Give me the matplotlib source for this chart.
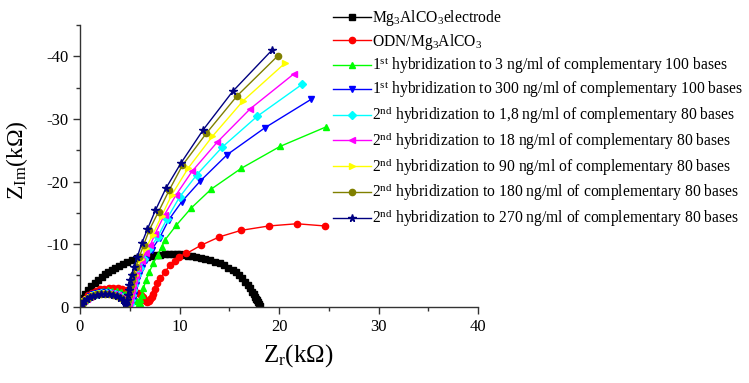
import matplotlib
matplotlib.use("Agg")
import matplotlib.pyplot as plt
from matplotlib.ticker import MultipleLocator

plt.rcParams['font.family'] = ['Liberation Serif', 'DejaVu Serif']
plt.rcParams['mathtext.fontset'] = 'custom'
plt.rcParams['mathtext.rm'] = 'Liberation Serif'
plt.rcParams['mathtext.it'] = 'Liberation Serif:italic'
plt.rcParams['axes.unicode_minus'] = False

# Mg3AlCO3 electrode
x_bare = [0.05, 0.17, 0.35, 0.55, 0.84, 1.15, 1.5, 1.85, 2.2, 2.55, 2.85, 3.2, 3.55, 3.96,
          4.35, 4.76, 5.2, 5.7, 6.2, 6.7, 7.2, 7.6, 8.06, 8.5, 8.9, 9.3, 9.7, 10.1, 10.5,
          10.9, 11.3, 11.7, 12.2, 12.6, 13.1, 13.6, 14.1, 14.5, 14.9, 15.4, 15.7, 16.0,
          16.3, 16.6, 16.85, 17.05, 17.3, 17.45, 17.6, 17.7, 17.8, 17.9, 17.96, 18.05]
y_bare = [-0.2, -0.8, -1.4, -2.0, -2.7, -3.25, -3.75, -4.3, -4.8, -5.2, -5.6, -5.9, -6.2, -6.5,
          -6.85, -7.2, -7.5, -7.75, -7.9, -8.0, -8.1, -8.2, -8.3, -8.35, -8.4, -8.4, -8.4, -8.35,
          -8.25, -8.15, -8.05, -7.9, -7.75, -7.6, -7.45, -7.2, -6.95, -6.6, -6.25, -5.9, -5.5,
          -5.1, -4.55, -4.0, -3.4, -2.95, -2.4, -2.0, -1.6, -1.3, -1.07, -0.75, -0.43, -0.1]

# ODN/Mg3AlCO3
x_odn = [0.1, 0.3, 0.55, 0.85, 1.2, 1.6, 2.0, 2.45, 2.9, 3.35, 3.8, 4.25, 4.7, 5.1, 5.5, 5.85,
         6.1, 6.3, 6.45, 6.6, 6.75, 6.9, 7.05, 7.2, 7.38, 7.55, 7.72, 8.06, 8.56, 9.06, 9.5,
         9.9, 10.7, 12.15, 14.0, 16.2, 19.0, 21.8, 24.6]
y_odn = [-0.3, -0.8, -1.3, -1.8, -2.2, -2.55, -2.75, -2.9, -3.0, -3.0, -2.95, -2.85, -2.7,
         -2.55, -2.4, -2.2, -1.9, -1.5, -1.15, -0.9, -0.8, -0.9, -1.2, -1.6, -2.1, -2.9, -3.75,
         -4.55, -5.6, -6.7, -7.3, -8.0, -8.5, -9.8, -11.15, -12.2, -12.9, -13.25, -12.9]

# 1st hybridization, 3 ng/ml
x_h3 = [0.1, 0.28, 0.5, 0.78, 1.1, 1.5, 1.9, 2.35, 2.8, 3.25, 3.7, 4.1, 4.5, 4.85, 5.15,
        5.45, 5.7, 5.9, 6.0, 6.04, 6.2, 6.37, 6.65, 6.98, 7.38, 7.79, 8.2, 8.56, 9.67, 11.2,
        13.2, 16.2, 20.1, 24.7]
y_h3 = [-0.25, -0.7, -1.1, -1.5, -1.9, -2.2, -2.4, -2.55, -2.6, -2.55, -2.45, -2.3, -2.1,
        -1.85, -1.6, -1.25, -0.9, -0.6, -0.6, -1.2, -1.9, -2.95, -4.3, -5.6, -6.95, -8.3,
        -9.5, -10.7, -13.0, -15.8, -18.8, -22.1, -25.6, -28.7]

# 1st hybridization, 300 ng/ml
x_h300 = [0.1, 0.25, 0.45, 0.7, 1.0, 1.35, 1.75, 2.15, 2.6, 3.05, 3.5, 3.9, 4.3, 4.65, 4.95,
          5.15, 5.3, 5.38, 5.47, 5.58, 5.72, 5.9, 6.2, 6.6, 7.2, 8.0, 8.93, 10.24, 12.1, 14.8,
          18.6, 23.2]
y_h300 = [-0.2, -0.55, -0.9, -1.3, -1.65, -1.95, -2.15, -2.28, -2.3, -2.25, -2.1, -1.9, -1.6,
          -1.25, -0.85, -0.5, -1.0, -1.8, -2.6, -3.4, -4.3, -5.1, -6.2, -7.5, -9.1, -11.0, -13.9,
          -16.8, -20.1, -24.3, -28.6, -33.1]

# 2nd hybridization, 1.8 ng/ml
x_h18a = [0.1, 0.25, 0.45, 0.7, 1.0, 1.35, 1.75, 2.15, 2.6, 3.05, 3.5, 3.9, 4.25, 4.6, 4.88,
          5.05, 5.15, 5.22, 5.3, 5.42, 5.55, 5.72, 6.0, 6.4, 6.95, 7.79, 8.73, 10.0, 11.75,
          14.3, 17.8, 22.3]
y_h18a = [-0.2, -0.55, -0.9, -1.25, -1.6, -1.9, -2.1, -2.22, -2.25, -2.2, -2.05, -1.85, -1.55,
          -1.2, -0.8, -0.45, -1.0, -1.8, -2.6, -3.4, -4.3, -5.1, -6.2, -7.6, -9.2, -11.1, -14.0,
          -17.5, -21.1, -25.5, -30.4, -35.5]

# 2nd hybridization, 18 ng/ml
x_h18 = [0.1, 0.25, 0.45, 0.7, 1.0, 1.35, 1.75, 2.15, 2.6, 3.05, 3.45, 3.85, 4.2, 4.5, 4.78,
         4.95, 5.05, 5.12, 5.2, 5.3, 5.43, 5.6, 5.85, 6.2, 6.6, 7.05, 7.55, 8.5, 9.67, 11.25,
         13.8, 17.1, 21.5]
y_h18 = [-0.2, -0.55, -0.9, -1.25, -1.55, -1.85, -2.05, -2.18, -2.2, -2.15, -2.0, -1.8, -1.5,
         -1.15, -0.75, -0.4, -1.0, -1.8, -2.6, -3.4, -4.3, -5.1, -6.2, -7.3, -8.5, -9.8, -11.65,
         -14.7, -17.9, -21.6, -26.3, -31.6, -37.2]

# 2nd hybridization, 90 ng/ml
x_h90 = [0.1, 0.25, 0.45, 0.7, 1.0, 1.35, 1.75, 2.15, 2.6, 3.0, 3.4, 3.8, 4.15, 4.45, 4.7,
         4.85, 4.95, 5.02, 5.1, 5.2, 5.33, 5.5, 5.75, 6.15, 6.65, 7.3, 8.2, 9.23, 10.9, 13.3,
         16.4, 20.6]
y_h90 = [-0.2, -0.5, -0.85, -1.2, -1.5, -1.8, -2.0, -2.12, -2.15, -2.1, -1.95, -1.75, -1.45,
         -1.1, -0.7, -0.4, -1.0, -1.8, -2.6, -3.4, -4.3, -5.1, -6.2, -7.6, -9.4, -11.5, -14.5,
         -17.9, -22.2, -27.2, -32.9, -38.9]

# 2nd hybridization, 180 ng/ml
x_h180 = [0.1, 0.25, 0.45, 0.7, 1.0, 1.35, 1.7, 2.1, 2.55, 2.95, 3.35, 3.75, 4.1, 4.4, 4.62,
          4.75, 4.82, 4.9, 4.98, 5.08, 5.2, 5.35, 5.6, 5.95, 6.4, 6.98, 7.9, 8.96, 10.3, 12.7,
          15.8, 19.9]
y_h180 = [-0.2, -0.5, -0.85, -1.2, -1.5, -1.75, -1.95, -2.07, -2.1, -2.05, -1.92, -1.72, -1.42,
          -1.05, -0.65, -0.4, -1.0, -1.8, -2.6, -3.4, -4.3, -5.1, -6.3, -7.9, -9.9, -12.3, -15.2,
          -18.6, -22.6, -27.7, -33.7, -40.1]

# 2nd hybridization, 270 ng/ml
x_h270 = [0.1, 0.25, 0.45, 0.7, 1.0, 1.35, 1.7, 2.1, 2.5, 2.9, 3.3, 3.7, 4.05, 4.35, 4.55,
          4.65, 4.72, 4.8, 4.88, 4.97, 5.07, 5.2, 5.45, 5.77, 6.2, 6.78, 7.58, 8.66, 10.17,
          12.4, 15.35, 19.3]
y_h270 = [-0.2, -0.5, -0.85, -1.2, -1.5, -1.75, -1.9, -2.0, -2.05, -2.0, -1.9, -1.7, -1.4,
          -1.0, -0.6, -0.3, -1.0, -1.8, -2.6, -3.4, -4.3, -5.1, -6.4, -8.0, -10.1, -12.4, -15.4,
          -19.0, -23.0, -28.3, -34.4, -41.0]

labels = [
    'Mg$_3$AlCO$_3$electrode',
    'ODN/Mg$_3$AlCO$_3$',
    '1$^{\\rm st}$ hybridization to 3 ng/ml of complementary 100 bases',
    '1$^{\\rm st}$ hybridization to 300 ng/ml of complementary 100 bases',
    '2$^{\\rm nd}$ hybridization to 1,8 ng/ml of complementary 80 bases',
    '2$^{\\rm nd}$ hybridization to 18 ng/ml of complementary 80 bases',
    '2$^{\\rm nd}$ hybridization to 90 ng/ml of complementary 80 bases',
    '2$^{\\rm nd}$ hybridization to 180 ng/ml of complementary 80 bases',
    '2$^{\\rm nd}$ hybridization to 270 ng/ml of complementary 80 bases',
]
xs = [x_bare, x_odn, x_h3, x_h300, x_h18a, x_h18, x_h90, x_h180, x_h270]
ys = [y_bare, y_odn, y_h3, y_h300, y_h18a, y_h18, y_h90, y_h180, y_h270]
colors = ['#000000', '#ff0000', '#00ff00', '#0000ff', '#00ffff', '#ff00ff', '#ffff00',
          '#808000', '#000080']
markers = ['s', 'o', '^', 'v', 'D', '<', '>', 'o', '*']
msizes = [4, 4.5, 4.5, 4.5, 4, 4.5, 4.5, 4.5, 5.5]

fig = plt.figure(figsize=(7.49, 3.83), dpi=100)
ax = fig.add_axes([80 / 749, 1 - 306.7 / 383, 398 / 749, 281.7 / 383])

for x, y, c, m, ms, lab in zip(xs, ys, colors, markers, msizes, labels):
    ax.plot(x, y, '-', color=c, marker=m, markersize=ms, lw=1, label=lab)

ax.set_xlim(0, 40)
ax.set_ylim(0, -45)
ax.xaxis.set_major_locator(MultipleLocator(10))
ax.xaxis.set_minor_locator(MultipleLocator(5))
ax.yaxis.set_major_locator(MultipleLocator(10))
ax.yaxis.set_minor_locator(MultipleLocator(5))
ax.spines['top'].set_visible(False)
ax.spines['right'].set_visible(False)
for s in ['left', 'bottom']:
    ax.spines[s].set_color('#333333')
    ax.spines[s].set_linewidth(1)
ax.tick_params(which='major', direction='out', length=5, width=1, color='#333333',
               labelsize=12)
ax.tick_params(which='minor', direction='out', length=3, width=1, color='#333333')

ax.set_xlabel('Z$_{\\rm r}$(k\u03a9)', fontsize=18)
ax.xaxis.set_label_coords(0.548, -0.125)
ax.set_ylabel('Z$_{\\rm Im}$(k\u03a9)', fontsize=17)
ax.yaxis.set_label_coords(-0.125, 0.52)

ax.legend(loc='upper left', bbox_to_anchor=(333 / 749, 1 - 8 / 383),
          bbox_transform=fig.transFigure, frameon=False, fontsize=11.25, handlelength=2.4,
          handletextpad=0.12, labelspacing=0.24, borderaxespad=0, borderpad=0)

fig.savefig('out.png', dpi=100)
